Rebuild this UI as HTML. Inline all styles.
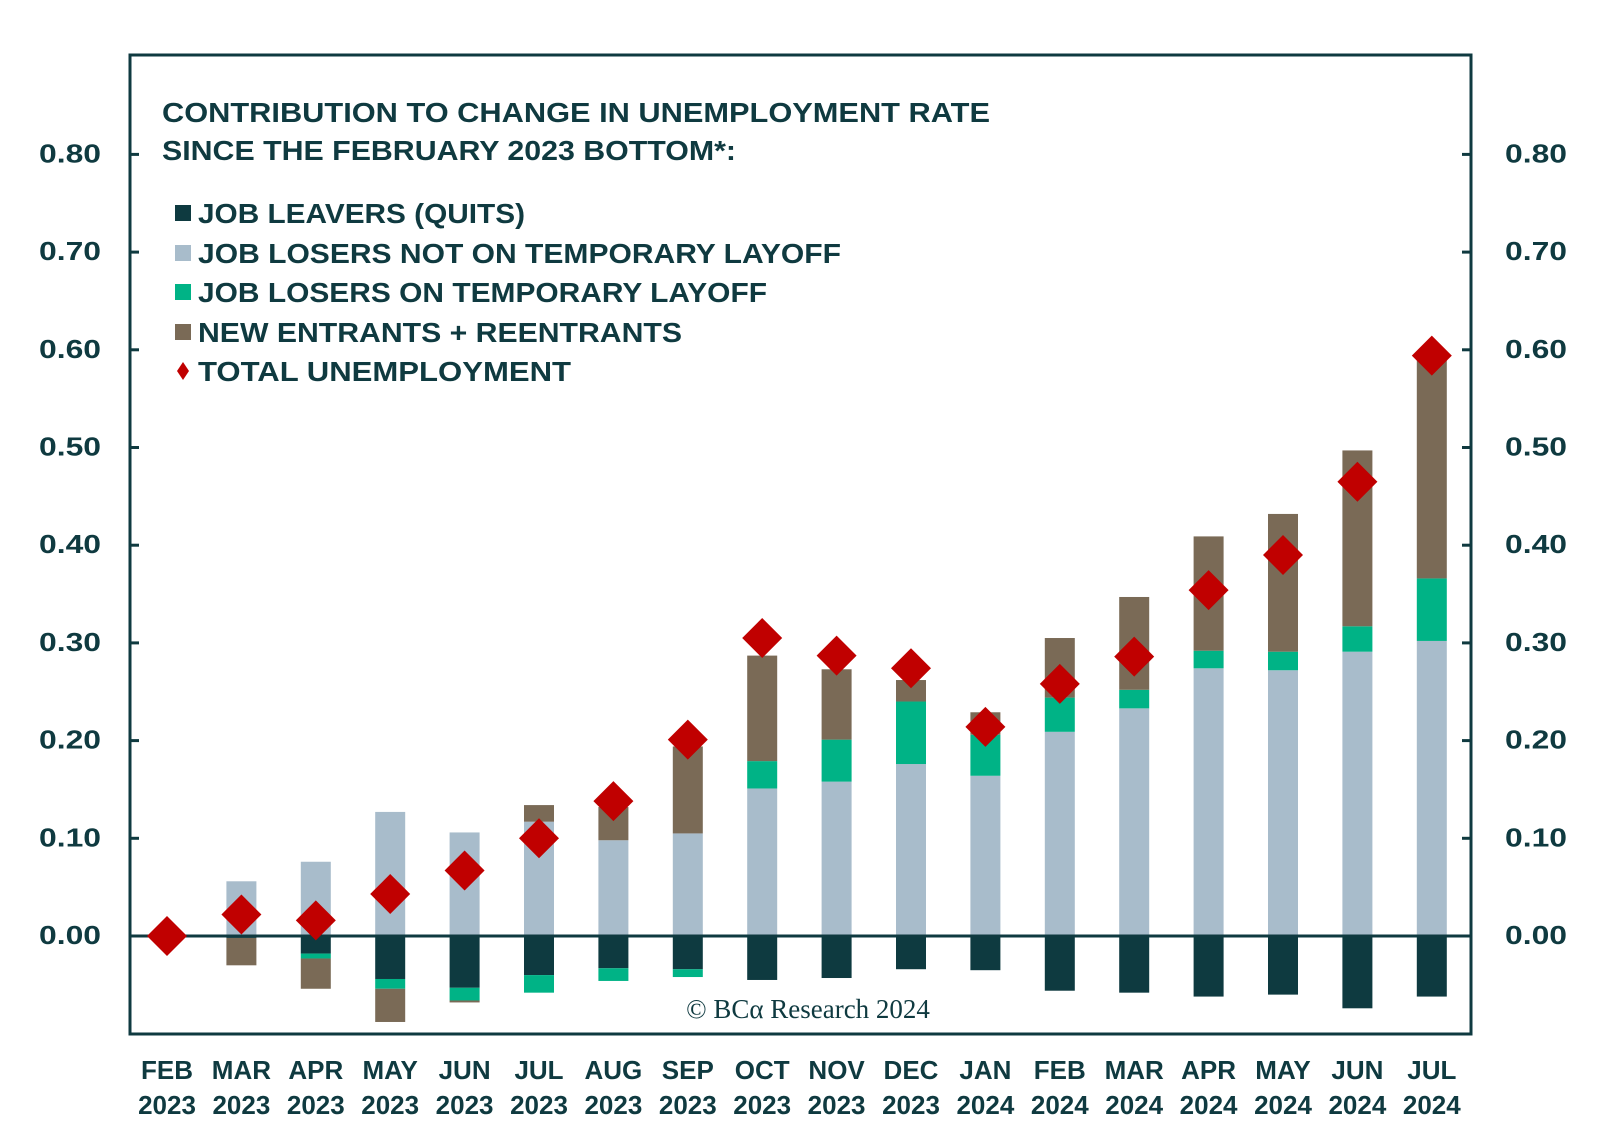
<!DOCTYPE html>
<html><head><meta charset="utf-8"><style>
body{margin:0;background:#fff;}
svg{display:block;font-family:"Liberation Sans",sans-serif;font-weight:bold;}
</style></head><body>
<svg id="chart" width="1600" height="1147" viewBox="0 0 1600 1147" xmlns="http://www.w3.org/2000/svg">
<rect x="130" y="55" width="1341" height="979" fill="none" stroke="#0f3a40" stroke-width="3"/>
<g id="title" fill="#0f3a40" font-size="28">
<text x="162" y="122" textLength="828" lengthAdjust="spacingAndGlyphs">CONTRIBUTION TO CHANGE IN UNEMPLOYMENT RATE</text>
<text x="162" y="160" textLength="574" lengthAdjust="spacingAndGlyphs">SINCE THE FEBRUARY 2023 BOTTOM*:</text>
</g>
<g id="legend"></g>
<g id="axes"></g>
<g id="bars"></g>
<g id="diamonds"></g>
<text x="808" y="1018" text-anchor="middle" font-family="'Liberation Serif',serif" font-weight="normal" font-size="27" fill="#0f3a40">© BCα Research 2024</text>
</svg>
<script>
const months = ["FEB","MAR","APR","MAY","JUN","JUL","AUG","SEP","OCT","NOV","DEC","JAN","FEB","MAR","APR","MAY","JUN","JUL"];
const years = ["2023","2023","2023","2023","2023","2023","2023","2023","2023","2023","2023","2024","2024","2024","2024","2024","2024","2024"];
const quits = [0,-0.002,-0.018,-0.044,-0.053,-0.040,-0.033,-0.034,-0.045,-0.043,-0.034,-0.035,-0.056,-0.058,-0.062,-0.060,-0.074,-0.062];
const losersNotTemp = [0,0.056,0.076,0.127,0.106,0.117,0.098,0.105,0.151,0.158,0.176,0.164,0.209,0.233,0.274,0.272,0.291,0.302];
const losersTemp = [0,0,-0.005,-0.010,-0.013,-0.018,-0.013,-0.008,0.028,0.043,0.064,0.042,0.035,0.019,0.018,0.019,0.026,0.064];
const entrants = [0,-0.028,-0.031,-0.034,-0.002,0.017,0.034,0.089,0.108,0.072,0.022,0.023,0.061,0.095,0.117,0.141,0.180,0.225];
const total = [0,0.022,0.016,0.043,0.067,0.100,0.138,0.201,0.305,0.287,0.274,0.214,0.258,0.286,0.354,0.390,0.465,0.594];
const yTicks = [0,0.1,0.2,0.3,0.4,0.5,0.6,0.7,0.8];

const NS="http://www.w3.org/2000/svg";
const C={quits:"#0e3a40",grey:"#a8bccb",green:"#00b386",brown:"#7a6a56",red:"#c00000",ink:"#0f3a40"};
const y=v=>936-v*977;
const x=i=>167+i*74.4;
function mk(tag,attrs,parent){const e=document.createElementNS(NS,tag);for(const k in attrs)e.setAttribute(k,attrs[k]);parent.appendChild(e);return e;}
const axes=document.getElementById('axes'),bars=document.getElementById('bars'),dg=document.getElementById('diamonds'),lg=document.getElementById('legend');

yTicks.forEach(t=>{
  const l=mk('text',{x:101,y:y(t)+8,'text-anchor':'end','font-size':26,fill:C.ink,textLength:62,lengthAdjust:'spacingAndGlyphs'},axes);l.textContent=t.toFixed(2);
  
  
  const r=mk('text',{x:1505,y:y(t)+8,'font-size':26,fill:C.ink,textLength:62,lengthAdjust:'spacingAndGlyphs'},axes);r.textContent=t.toFixed(2);
  
  
  const a=mk('line',{x1:130,x2:139,y1:y(t),y2:y(t),stroke:C.ink,'stroke-width':3},axes);
  
  
  const b=mk('line',{x1:1462,x2:1471,y1:y(t),y2:y(t),stroke:C.ink,'stroke-width':3},axes);
  
  
});

months.forEach((m,i)=>{
  const t1=mk('text',{x:x(i),y:1079,'text-anchor':'middle','font-size':26,fill:C.ink},axes);t1.textContent=m;
  
  
  const t2=mk('text',{x:x(i),y:1114,'text-anchor':'middle','font-size':26,fill:C.ink},axes);t2.textContent=years[i];
  
  
  let pos=0,neg=0;
  const seg=(v,col,name)=>{
    if(!v)return;
    let y0,y1;
    if(v>0){y0=pos;pos+=v;y1=pos;}else{y0=neg;neg+=v;y1=neg;}
    const r=mk('rect',{x:x(i)-15,width:30,y:Math.min(y(y0),y(y1)),height:Math.abs(y(y0)-y(y1)),fill:col},bars);
    
    
  };
  seg(quits[i],C.quits,'bar-quits');
  seg(losersNotTemp[i],C.grey,'bar-losers-not-temporary');
  seg(losersTemp[i],C.green,'bar-losers-temporary');
  seg(entrants[i],C.brown,'bar-entrants');
});
const zl=mk('line',{x1:130,x2:1471,y1:y(0),y2:y(0),stroke:C.ink,'stroke-width':3},bars);


total.forEach((v,i)=>{
  const cx=x(i),cy=y(v),s=20;
  const d=mk('polygon',{points:`${cx},${cy-s} ${cx+s},${cy} ${cx},${cy+s} ${cx-s},${cy}`,fill:C.red},dg);
  
  
});

const legendItems=[["JOB LEAVERS (QUITS)",C.quits,213,327],["JOB LOSERS NOT ON TEMPORARY LAYOFF",C.grey,253,643],["JOB LOSERS ON TEMPORARY LAYOFF",C.green,292,569],["NEW ENTRANTS + REENTRANTS",C.brown,332,484],["TOTAL UNEMPLOYMENT",C.red,371,373]];
legendItems.forEach((it,k)=>{
  const g=mk('g',{},lg);
  
  
  if(k<4){mk('rect',{x:175,y:it[2]-8,width:16,height:16,fill:it[1]},g);}
  else{mk('polygon',{points:`183,${it[2]-9} 189,${it[2]} 183,${it[2]+9} 177,${it[2]}`,fill:it[1]},g);}
  const t=mk('text',{x:198,y:it[2]+10,'font-size':28,fill:C.ink,textLength:it[3],lengthAdjust:'spacingAndGlyphs'},g);t.textContent=it[0];
});
</script>
</body></html>
